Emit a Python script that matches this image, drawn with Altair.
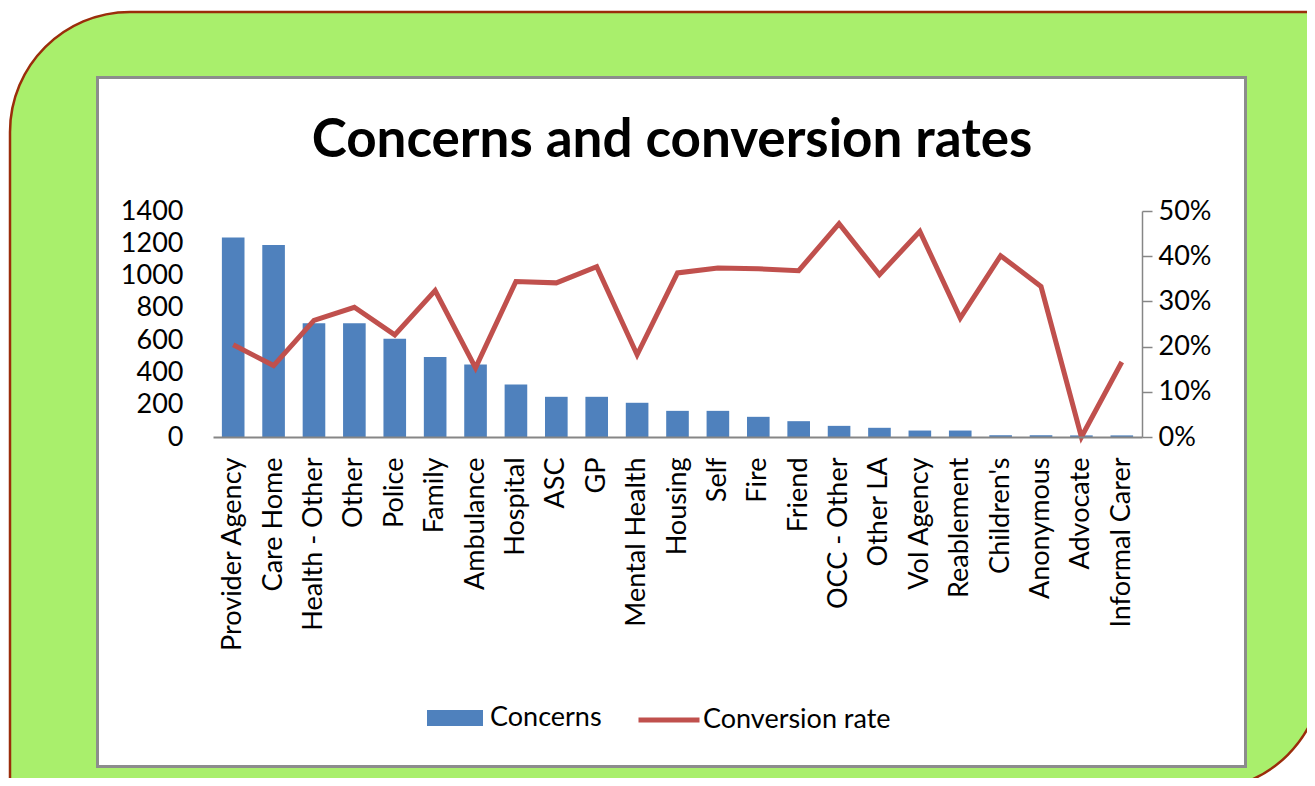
import altair as alt
import pandas as pd

categories = ["Provider Agency", "Care Home", "Health - Other", "Other", "Police", "Family",
              "Ambulance", "Hospital", "ASC", "GP", "Mental Health", "Housing", "Self", "Fire",
              "Friend", "OCC - Other", "Other LA", "Vol Agency", "Reablement", "Children's",
              "Anonymous", "Advocate", "Informal Carer"]
concerns = [1236, 1189, 704, 704, 609, 496, 449, 325, 249, 249, 212, 162, 162, 125,
            98, 69, 57, 40, 40, 11, 11, 10, 10]
conversion = [0.204, 0.158, 0.258, 0.287, 0.226, 0.324, 0.153, 0.344, 0.341, 0.377,
              0.182, 0.363, 0.374, 0.372, 0.368, 0.472, 0.359, 0.455, 0.263, 0.401,
              0.333, 0.0, 0.166]

FONT = "Lato"
BLUE = "#4F81BD"
RED = "#C0504D"
FS = 27

df = pd.DataFrame({"source": categories, "Concerns": concerns, "rate": conversion,
                   "s1": "Concerns", "s2": "Conversion rate"})
one = pd.DataFrame({"k": [0]})

x_enc = alt.X("source:N", sort=categories,
              scale=alt.Scale(paddingInner=0.44, paddingOuter=0.22),
              axis=alt.Axis(title=None, labelAngle=-90, labelFontSize=FS, labelFont=FONT,
                            labelColor="#000000", labelPadding=20, ticks=False,
                            domainColor="#868686", domainWidth=2, labelLimit=400,
                            zindex=1))

green = alt.Chart(one).mark_rect(
    fill="#A9EF6C", stroke="#9B2D0B", strokeWidth=2.5,
    cornerRadiusTopLeft=120, cornerRadiusBottomRight=120,
).encode(x=alt.value(-203), x2=alt.value(1110), y=alt.value(-199), y2=alt.value(579))

white = alt.Chart(one).mark_rect(
    fill="#FFFFFF", stroke="#8C8C8C", strokeWidth=3
).encode(x=alt.value(-115.5), x2=alt.value(1032.5), y=alt.value(-133.5), y2=alt.value(555.5))

title = alt.Chart(one).mark_text(
    text="Concerns and conversion rates", font=FONT, fontWeight="bold", fontSize=53,
    align="center", baseline="alphabetic", color="#000000"
).encode(x=alt.value(459), y=alt.value(-54))

bars = alt.Chart(df).mark_bar(color=BLUE).encode(
    x=x_enc,
    y=alt.Y("Concerns:Q", scale=alt.Scale(domain=[0, 1400], nice=False),
            axis=alt.Axis(title=None, orient="left", values=list(range(0, 1401, 200)),
                          format="d", domain=False, ticks=False, grid=False,
                          labelFontSize=FS, labelFont=FONT, labelColor="#000000",
                          labelPadding=30, zindex=1)),
    color=alt.Color("s1:N", scale=alt.Scale(domain=["Concerns"], range=[BLUE]),
                    legend=alt.Legend(title=None, orient="none", legendX=214, legendY=479,
                                      symbolType="M-1,-0.29 L1,-0.29 L1,0.29 L-1,0.29 Z",
                                      symbolSize=3136, symbolStrokeWidth=0,
                                      labelFontSize=FS, labelFont=FONT, labelColor="#000000",
                                      labelOffset=7, padding=0, labelLimit=400)),
)

line = alt.Chart(df).mark_line(strokeWidth=5).encode(
    x=alt.X("source:N", sort=categories),
    y=alt.Y("rate:Q", scale=alt.Scale(domain=[0, 0.5], nice=False),
            axis=alt.Axis(title=None, orient="right", format=".0%",
                          values=[0, 0.1, 0.2, 0.3, 0.4, 0.5], domainColor="#868686",
                          tickColor="#868686", tickSize=10, domainWidth=1.5, tickWidth=1.5,
                          grid=False, labelFontSize=FS, labelFont=FONT, labelColor="#000000",
                          labelPadding=6, zindex=1)),
    stroke=alt.Stroke("s2:N", scale=alt.Scale(domain=["Conversion rate"], range=[RED]),
                      legend=alt.Legend(title=None, orient="none", legendX=423, legendY=476,
                                        symbolType="stroke", symbolSize=3721,
                                        symbolStrokeWidth=5, labelFontSize=FS,
                                        labelFont=FONT, labelColor="#000000",
                                        labelOffset=1, padding=0, labelLimit=400)),
)

chart = alt.layer(green, white, title, bars, line).resolve_scale(
    y="independent", color="independent", stroke="independent"
).properties(
    width=929, height=226,
    autosize=alt.AutoSizeParams(type="none"),
    padding={"left": 205, "top": 203, "right": 165, "bottom": 341},
    background="#FFFFFF",
).configure_view(stroke=None)

chart.save("out.html", embed_options={"renderer": "svg", "actions": False})
